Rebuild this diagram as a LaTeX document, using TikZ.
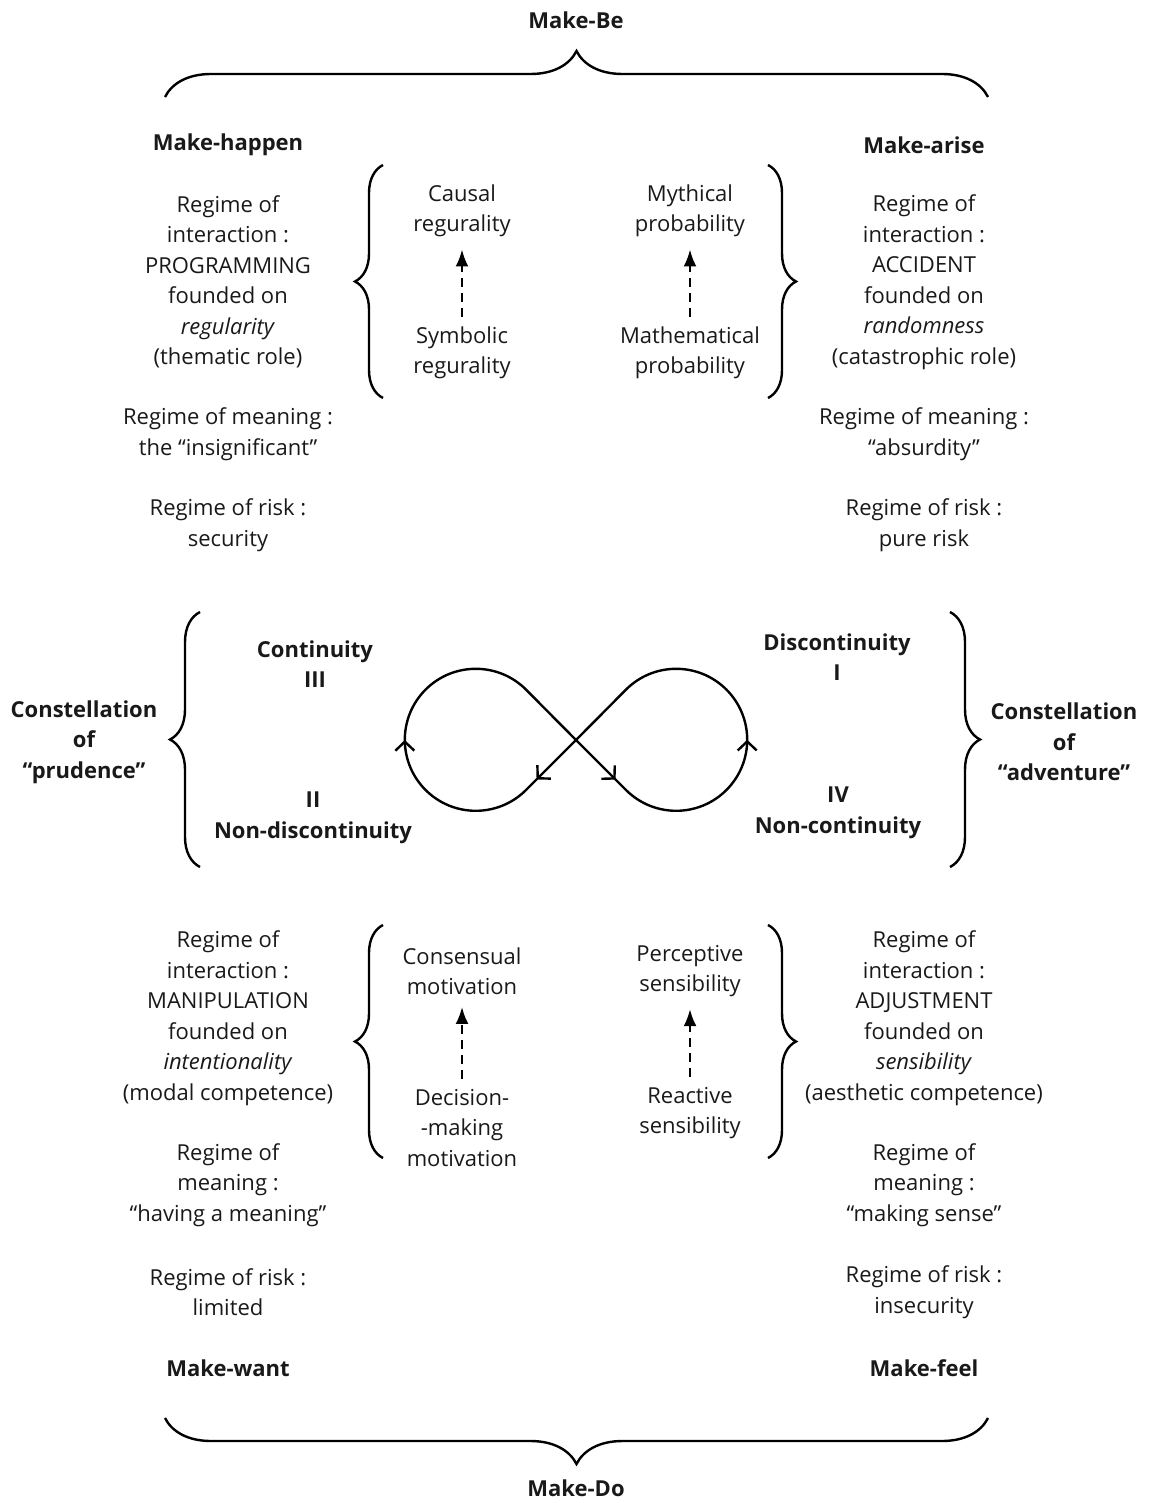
\documentclass[tikz,border=0pt]{standalone}
\usepackage{fontspec}
\setmainfont{Open Sans}
\usepackage{tikz}
\usetikzlibrary{arrows.meta,%
                decorations.pathreplacing,%
                decorations.markings}

\begin{document}
\begin{tikzpicture}[x=1pt,y=-1pt]
		\tikzstyle{TextStyle}=[align=center,inner sep=0pt,text=black!90,font=\fontsize{22}{30.5}\selectfont]
		\tikzstyle{BoldStyle}=[TextStyle,font=\fontsize{22}{30.5}\selectfont\bfseries]
		\tikzstyle{BraceStyle}=[line width=2.4pt,decorate]
		\tikzstyle{DashArrow}=[line width=2.4pt,dash pattern=on 9pt off 6pt,-{Latex[length=17pt,width=13pt]},shorten >=12pt,shorten <=10pt]
		\tikzstyle{LoopTip}=[line width=2.4pt,line join=round]
		\useasboundingbox (0,0) rectangle (1148,1503);
		% top and bottom
		\node[BoldStyle] (makebe) at (576,20) {Make-Be};
		\node[BoldStyle] (makedo) at (576,1488) {Make-Do};
		\draw[BraceStyle,decoration={brace,amplitude=46pt}] (165,97) -- (988,97);
		\draw[BraceStyle,decoration={brace,amplitude=46pt}] (988,1418) -- (165,1418);
		% upper left
		\node[BoldStyle] (happen) at (228,145) {Make-happen};
		\node[TextStyle] (interhappen) at (228,282) {Regime of\\interaction :\\PROGRAMMING\\founded on\\\textit{regularity}\\(thematic role)};
		\node[TextStyle] (meanhappen) at (228,434) {Regime of meaning :\\the “insignificant”};
		\node[TextStyle] (riskhappen) at (228,525) {Regime of risk :\\security};
		% upper right
		\node[BoldStyle] (arise) at (924,145) {Make-arise};
		\node[TextStyle] (interarise) at (924,282) {Regime of\\interaction :\\ACCIDENT\\founded on\\\textit{randomness}\\(catastrophic role)};
		\node[TextStyle] (meanarise) at (924,434) {Regime of meaning :\\“absurdity”};
		\node[TextStyle] (riskarise) at (924,525) {Regime of risk :\\pure risk};
		% upper inner
		\node[TextStyle] (causal) at (462,211) {Causal\\regurality};
		\node[TextStyle] (symbolic) at (462,353) {Symbolic\\regurality};
		\node[TextStyle] (mythical) at (690,211) {Mythical\\probability};
		\node[TextStyle] (mathematical) at (690,353) {Mathematical\\probability};
		\draw[DashArrow] (symbolic) -- (causal);
		\draw[DashArrow] (mathematical) -- (mythical);
		\draw[BraceStyle,decoration={brace,amplitude=28pt}] (383,398) -- (383,165);
		\draw[BraceStyle,decoration={brace,amplitude=28pt}] (768,165) -- (768,398);
		% middle
		\node[BoldStyle] (prudence) at (84,742) {Constellation\\of\\“prudence”};
		\node[BoldStyle] (adventure) at (1064,742) {Constellation\\of\\“adventure”};
		\node[BoldStyle] (third) at (315,664) {Continuity\\III};
		\node[BoldStyle] (second) at (313,818) {II\\Non-discontinuity};
		\node[BoldStyle] (first) at (837,657) {Discontinuity\\I};
		\node[BoldStyle] (fourth) at (838,813) {IV\\Non-continuity};
		\draw[BraceStyle,decoration={brace,amplitude=30pt}] (200,867) -- (200,612);
		\draw[BraceStyle,decoration={brace,amplitude=30pt}] (950,612) -- (950,867);
		\draw[LoopTip,postaction={decorate},decoration={markings,%
				mark=at position 56pt with {\arrow{Straight Barb[length=9pt,width=19pt]}},%
				mark=at position 238pt with {\arrow{Straight Barb[length=9pt,width=19pt]}},%
				mark=at position 532pt with {\arrow{Straight Barb[length=9pt,width=19pt]}},%
				mark=at position 714pt with {\arrow{Straight Barb[length=9pt,width=19pt]}}}]
			(576,740) -- (626,790) arc[start angle=135,end angle=-135,radius=71]
			-- (576,740) -- (526,790) arc[start angle=45,end angle=315,radius=71] -- cycle;
		% lower left
		\node[TextStyle] (interwant) at (228,1018) {Regime of\\interaction :\\MANIPULATION\\founded on\\\textit{intentionality}\\(modal competence)};
		\node[TextStyle] (meanwant) at (228,1185) {Regime of\\meaning :\\“having a meaning”};
		\node[TextStyle] (riskwant) at (228,1292) {Regime of risk :\\limited};
		\node[BoldStyle] (want) at (228,1368) {Make-want};
		% lower right
		\node[TextStyle] (interfeel) at (924,1018) {Regime of\\interaction :\\ADJUSTMENT\\founded on\\\textit{sensibility}\\(aesthetic competence)};
		\node[TextStyle] (meanfeel) at (924,1185) {Regime of\\meaning :\\“making sense”};
		\node[TextStyle] (riskfeel) at (924,1292) {Regime of risk :\\insecurity};
		\node[BoldStyle] (feel) at (924,1368) {Make-feel};
		% lower inner
		\node[TextStyle] (consensual) at (462,971) {Consensual\\motivation};
		\node[TextStyle] (decision) at (462,1128) {Decision-\\-making\\motivation};
		\node[TextStyle] (perceptive) at (690,971) {Perceptive\\sensibility};
		\node[TextStyle] (reactive) at (690,1113) {Reactive\\sensibility};
		\draw[DashArrow] (decision) -- (consensual);
		\draw[DashArrow] (reactive) -- (perceptive);
		\draw[BraceStyle,decoration={brace,amplitude=28pt}] (383,1158) -- (383,925);
		\draw[BraceStyle,decoration={brace,amplitude=28pt}] (768,925) -- (768,1158);
	\end{tikzpicture}
\end{document}
